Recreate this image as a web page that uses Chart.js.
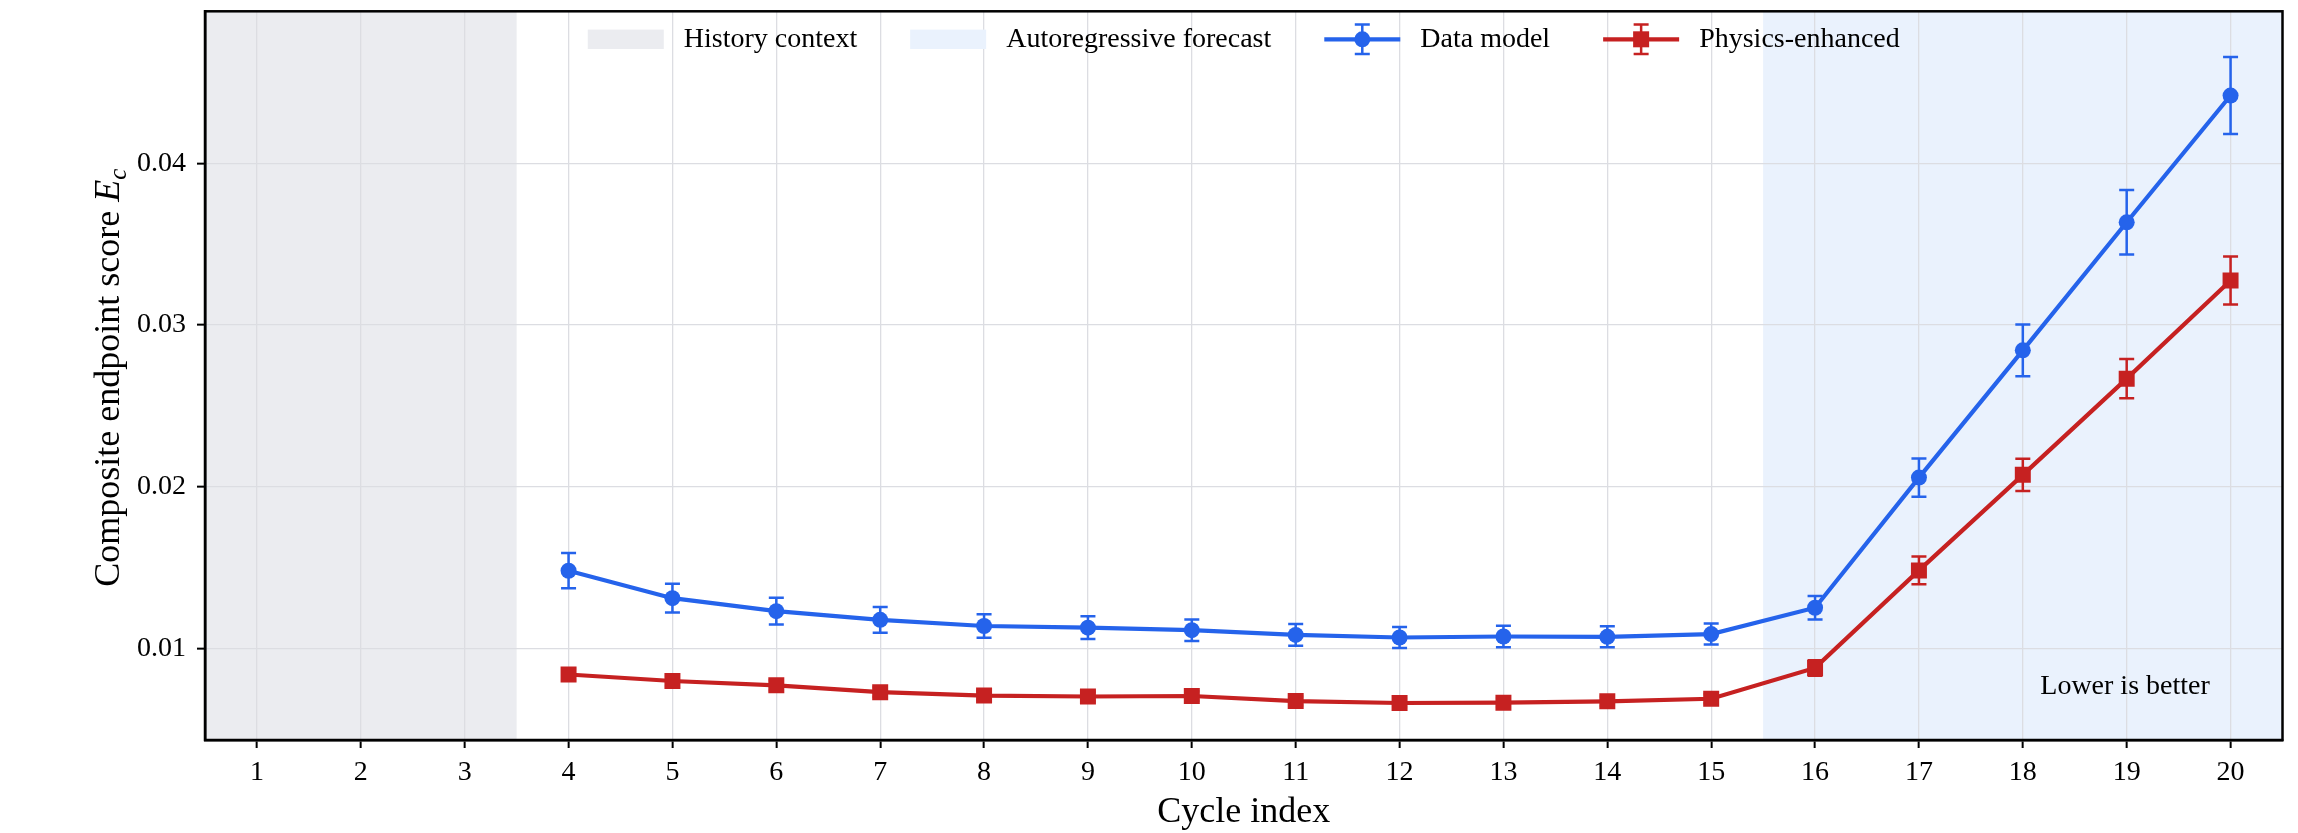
<!DOCTYPE html>
<html>
<head>
<meta charset="utf-8">
<script src="https://cdn.jsdelivr.net/npm/chart.js@4.4.1/dist/chart.umd.min.js"></script>
<style>
  body { margin: 0; background: #fff; }
  canvas { display: block; }
</style>
</head>
<body>
<canvas id="myChart" width="2298" height="833"></canvas>
<script>
// cycle index of each evaluated point
const cycles = [4, 5, 6, 7, 8, 9, 10, 11, 12, 13, 14, 15, 16, 17, 18, 19, 20];
const dataModel = [0.01481, 0.01311, 0.01231, 0.01177, 0.01139, 0.01129, 0.01113, 0.01084, 0.01068,
                   0.01074, 0.01072, 0.01089, 0.01252, 0.02057, 0.02844, 0.03636, 0.04420];
const dataModelErr = [0.00109, 0.00089, 0.00083, 0.00080, 0.00073, 0.00070, 0.00067, 0.00067, 0.00065,
                      0.00066, 0.00065, 0.00065, 0.00073, 0.00118, 0.00160, 0.00199, 0.00238];
const physics = [0.00839, 0.00799, 0.00772, 0.00730, 0.00709, 0.00703, 0.00706, 0.00675, 0.00663,
                 0.00665, 0.00673, 0.00689, 0.00880, 0.01483, 0.02074, 0.02669, 0.03276];
const physicsErr = [0.00035, 0.00033, 0.00032, 0.00030, 0.00029, 0.00029, 0.00029, 0.00028, 0.00027,
                    0.00027, 0.00028, 0.00028, 0.00048, 0.00086, 0.00100, 0.00121, 0.00149];

const xTicks = [1, 2, 3, 4, 5, 6, 7, 8, 9, 10, 11, 12, 13, 14, 15, 16, 17, 18, 19, 20];
const yTicks = [0.01, 0.02, 0.03, 0.04];

const bandLabels = ['History context', 'Autoregressive forecast'];
const bandRanges = [[0.5, 3.5], [15.5, 20.5]];
const bandColors = ['#ebecf0', '#eaf2fd'];

const BLUE = '#2563eb';
const RED = '#c62121';
const FONT = '"Liberation Serif", "Times New Roman", serif';

function drawMarker(ctx, style, x, y, color) {
    ctx.fillStyle = color;
    if (style === 'rect') {
        ctx.fillRect(x - 8, y - 8, 16, 16);
    } else {
        ctx.beginPath();
        ctx.arc(x, y, 8, 0, Math.PI * 2);
        ctx.fill();
    }
}

const extras = {
    id: 'extras',
    beforeDraw(chart) {
        const {ctx, chartArea: ca, scales: {x}} = chart;
        ctx.save();
        bandRanges.forEach((r, i) => {
            const x0 = x.getPixelForValue(r[0]);
            const x1 = x.getPixelForValue(r[1]);
            ctx.fillStyle = bandColors[i];
            ctx.fillRect(x0, ca.top, x1 - x0, ca.bottom - ca.top);
        });
        ctx.restore();
    },
    beforeDatasetsDraw(chart) {
        // error bars
        const {ctx, scales: {x, y}} = chart;
        ctx.save();
        chart.data.datasets.forEach(ds => {
            ctx.strokeStyle = ds.borderColor;
            ctx.lineWidth = 2.5;
            ds.data.forEach((p, i) => {
                const px = x.getPixelForValue(p.x);
                const y0 = y.getPixelForValue(p.y - ds.errors[i]);
                const y1 = y.getPixelForValue(p.y + ds.errors[i]);
                ctx.beginPath();
                ctx.moveTo(px, y0); ctx.lineTo(px, y1);
                ctx.moveTo(px - 7.5, y0); ctx.lineTo(px + 7.5, y0);
                ctx.moveTo(px - 7.5, y1); ctx.lineTo(px + 7.5, y1);
                ctx.stroke();
            });
        });
        ctx.restore();
    },
    afterDatasetsDraw(chart) {
        const {ctx, chartArea: ca} = chart;
        ctx.save();
        ctx.strokeStyle = '#000';
        ctx.lineWidth = 2.5;
        ctx.strokeRect(ca.left, ca.top, ca.right - ca.left, ca.bottom - ca.top);
        ctx.restore();
    },
    afterDraw(chart) {
        const {ctx, chartArea: ca} = chart;
        ctx.save();

        // legend inside the plot, no frame
        const items = bandLabels.map((l, i) => ({type: 'box', color: bandColors[i], label: l}));
        chart.data.datasets.forEach(ds => items.push({type: 'line', color: ds.borderColor, style: ds.pointStyle, label: ds.label}));
        ctx.font = '28px ' + FONT;
        const hw = 76, gap = 20, sp = 53;
        const widths = items.map(it => hw + gap + ctx.measureText(it.label).width);
        const total = widths.reduce((a, b) => a + b, 0) + sp * (items.length - 1);
        let lx = (ca.left + ca.right) / 2 - total / 2;
        const cy = ca.top + 28;
        items.forEach((it, i) => {
            if (it.type === 'box') {
                ctx.fillStyle = it.color;
                ctx.fillRect(lx, cy - 9.7, hw, 19.4);
            } else {
                const mx = lx + hw / 2;
                ctx.strokeStyle = it.color;
                ctx.lineWidth = 4.2;
                ctx.beginPath();
                ctx.moveTo(lx, cy); ctx.lineTo(lx + hw, cy);
                ctx.stroke();
                ctx.lineWidth = 2.5;
                ctx.beginPath();
                ctx.moveTo(mx, cy - 14.7); ctx.lineTo(mx, cy + 14.7);
                ctx.moveTo(mx - 7.5, cy - 14.7); ctx.lineTo(mx + 7.5, cy - 14.7);
                ctx.moveTo(mx - 7.5, cy + 14.7); ctx.lineTo(mx + 7.5, cy + 14.7);
                ctx.stroke();
                drawMarker(ctx, it.style, mx, cy, it.color);
            }
            ctx.fillStyle = '#000';
            ctx.textAlign = 'left';
            ctx.textBaseline = 'middle';
            ctx.fillText(it.label, lx + hw + gap, cy);
            lx += widths[i] + sp;
        });

        // annotation
        ctx.font = '28px ' + FONT;
        ctx.textAlign = 'right';
        ctx.textBaseline = 'alphabetic';
        ctx.fillText('Lower is better', ca.left + 0.965 * (ca.right - ca.left), ca.bottom - 0.063 * (ca.bottom - ca.top));

        // y axis title with italic E and subscript c
        ctx.translate(119, (ca.top + ca.bottom) / 2 + 2);
        ctx.rotate(-Math.PI / 2);
        const main = 'Composite endpoint score ';
        ctx.font = '36px ' + FONT;
        const w1 = ctx.measureText(main).width;
        ctx.font = 'italic 36px ' + FONT;
        const w2 = ctx.measureText('E').width;
        ctx.font = 'italic 25px ' + FONT;
        const w3 = ctx.measureText('c').width;
        let tx = -(w1 + w2 + w3) / 2;
        ctx.textAlign = 'left';
        ctx.textBaseline = 'alphabetic';
        ctx.font = '36px ' + FONT;
        ctx.fillText(main, tx, 0);
        tx += w1;
        ctx.font = 'italic 36px ' + FONT;
        ctx.fillText('E', tx, 0);
        tx += w2;
        ctx.font = 'italic 25px ' + FONT;
        ctx.fillText('c', tx, 7);
        ctx.restore();
    }
};

let ctx = document.getElementById('myChart').getContext('2d');
let chart = new Chart(ctx, {
    type: 'line',
    data: {
        datasets: [{
            label: 'Data model',
            data: cycles.map((c, i) => ({x: c, y: dataModel[i]})),
            errors: dataModelErr,
            borderColor: BLUE,
            backgroundColor: BLUE,
            borderWidth: 4.2,
            pointStyle: 'circle',
            pointRadius: 8,
            pointBorderWidth: 0,
            tension: 0
        }, {
            label: 'Physics-enhanced',
            data: cycles.map((c, i) => ({x: c, y: physics[i]})),
            errors: physicsErr,
            borderColor: RED,
            backgroundColor: RED,
            borderWidth: 4.2,
            pointStyle: 'rect',
            pointRadius: 11.3,
            pointBorderWidth: 0,
            tension: 0
        }]
    },
    options: {
        responsive: false,
        animation: false,
        devicePixelRatio: 1,
        layout: {padding: {top: 10, right: 15.5, left: 0, bottom: 0}},
        plugins: {legend: {display: false}, tooltip: {enabled: false}},
        scales: {
            x: {
                type: 'linear',
                min: 0.5,
                max: 20.5,
                afterBuildTicks: s => { s.ticks = xTicks.map(v => ({value: v})); },
                afterFit: s => { s.height = 93; s.paddingLeft = 0; s.paddingRight = 0; },
                ticks: {
                    color: '#000',
                    font: {family: FONT, size: 28},
                    padding: 8,
                    maxRotation: 0,
                    callback: v => String(v)
                },
                grid: {color: '#dcdde2', lineWidth: 1.3, tickColor: '#000', tickLength: 8, tickWidth: 2},
                border: {display: true, color: '#000', width: 2.5},
                title: {
                    display: true,
                    text: 'Cycle index',
                    color: '#000',
                    font: {family: FONT, size: 36, lineHeight: 1.15},
                    padding: {top: 0, bottom: 0}
                }
            },
            y: {
                type: 'linear',
                min: 0.00434,
                max: 0.04941,
                afterBuildTicks: s => { s.ticks = yTicks.map(v => ({value: v})); },
                afterFit: s => { s.width = 205; s.paddingTop = 0; s.paddingBottom = 0; },
                ticks: {
                    color: '#000',
                    font: {family: FONT, size: 28},
                    padding: 11,
                    callback: v => v.toFixed(2)
                },
                grid: {color: '#dcdde2', lineWidth: 1.3, tickColor: '#000', tickLength: 8, tickWidth: 2},
                border: {display: true, color: '#000', width: 2.5}
            }
        }
    },
    plugins: [extras]
});
</script>
</body>
</html>
